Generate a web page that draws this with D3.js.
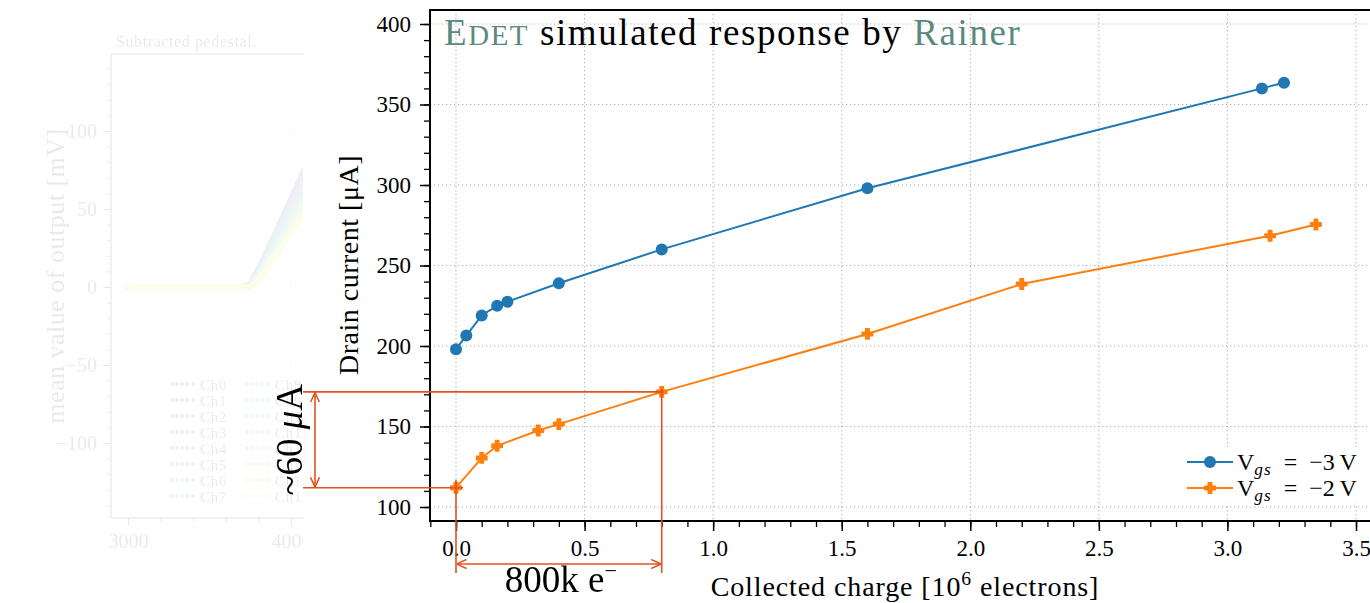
<!DOCTYPE html>
<html>
<head>
<meta charset="utf-8">
<script src="https://cdn.jsdelivr.net/npm/d3@7"></script>
<style>
  body { margin: 0; background: #fff; }
  svg { display: block; }
  text { font-family: "Liberation Serif", "DejaVu Serif", serif; }
</style>
</head>
<body>
<svg id="chart" width="1370" height="603"></svg>
<script>
// ---- main chart data ----
const chargeVgs3 = [0, 0.04, 0.1, 0.16, 0.2, 0.4, 0.8, 1.6, 3.134, 3.22]
const currentVgs3 = [198, 206.5, 219, 225, 227.5, 239, 260, 298, 360, 363.5]
const chargeVgs2 = [0, 0.1, 0.16, 0.32, 0.4, 0.8, 1.6, 2.2, 3.166, 3.344]
const currentVgs2 = [112, 130.5, 138, 147.5, 151.5, 171.5, 207.5, 238.5, 268.5, 275.5]
const seriesLabels = ["\u22123", "\u22122"]
const xTicks = [0, 0.5, 1, 1.5, 2, 2.5, 3, 3.5]
const yTicks = [100, 150, 200, 250, 300, 350, 400]

// ---- faded background chart data ----
const pedestalX = [3000, 3700, 3750, 3800, 3900, 4000, 4100]
const pedestalCh = [
  [0, 0, 2, 12, 34, 57, 80],
  [0, 0, 2, 12, 33, 56, 78],
  [0, 0, 2, 11, 32, 54, 76],
  [0, 0, 1, 10, 31, 52, 74],
  [0, 0, 1, 10, 30, 51, 72],
  [0, 0, 1, 9, 29, 49, 70],
  [0, 0, 1, 9, 28, 48, 68],
  [0, 0, 1, 8, 27, 46, 66],
  [0, 0, 1, 8, 26, 45, 64],
  [0, 0, 1, 7, 25, 43, 62],
  [0, 0, 1, 7, 24, 42, 60],
  [0, 0, 0, 6, 23, 40, 58],
  [0, 0, 0, 6, 22, 39, 56],
  [0, 0, 0, 5, 21, 37, 54],
  [0, 0, 0, 5, 20, 36, 52],
  [0, 0, 0, 4, 19, 34, 50]
]
const pedYTicks = [-100, -50, 0, 50, 100]
const pedXTicks = [3000, 4000]

const blue = "#1f77b4"
const orange = "#ff7f0e"
const annot = "#e0521f"
const teal = "#5b8a7c"

const svg = d3.select("#chart")
const defs = svg.append("defs")
defs.append("clipPath").attr("id", "leftClip")
  .append("rect").attr("x", 0).attr("y", 0).attr("width", 303).attr("height", 603)
defs.append("marker")
  .attr("id", "arrow")
  .attr("viewBox", "0 -5 10 10")
  .attr("refX", 9.5).attr("refY", 0)
  .attr("markerWidth", 10).attr("markerHeight", 10)
  .attr("markerUnits", "userSpaceOnUse")
  .attr("orient", "auto-start-reverse")
  .append("path")
  .attr("d", "M0,-4.5L10,0L0,4.5")
  .attr("fill", "none").attr("stroke", annot).attr("stroke-width", 1.5)

// ===== faded chart on the left =====
const bg = svg.append("g").attr("clip-path", "url(#leftClip)")
  .append("g").attr("opacity", 0.09)
const px = d3.scaleLinear().domain([3000, 4000]).range([128, 291])
const py = d3.scaleLinear().domain([0, 50]).range([287, 209])
const bgLeft = 111, bgTop = 54, bgBottom = 518

bg.append("text").attr("x", 116).attr("y", 47).attr("font-size", 16).attr("letter-spacing", 0.6).text("Subtracted pedestal.")
bg.selectAll("line.gy").data(pedYTicks).join("line")
  .attr("x1", bgLeft).attr("x2", 320).attr("y1", d => py(d)).attr("y2", d => py(d))
  .attr("stroke", "#888").attr("stroke-dasharray", "1,3")
bg.selectAll("line.gx").data(pedXTicks).join("line")
  .attr("x1", d => px(d)).attr("x2", d => px(d)).attr("y1", bgTop).attr("y2", bgBottom)
  .attr("stroke", "#888").attr("stroke-dasharray", "1,3")

const pedLine = d3.line().x((d, i) => px(pedestalX[i])).y(d => py(d))
bg.selectAll("path.ch").data(pedestalCh).join("path")
  .attr("d", pedLine)
  .attr("fill", "none")
  .attr("stroke", (d, i) => d3.interpolateViridis(0.1 + 0.85 * i / 15))
  .attr("stroke-width", 5)
  .attr("stroke-linecap", "round")

bg.append("rect").attr("x", bgLeft).attr("y", bgTop).attr("width", 300).attr("height", bgBottom - bgTop)
  .attr("fill", "none").attr("stroke", "#000").attr("stroke-width", 1.2)
bg.append("g").attr("transform", `translate(${bgLeft},0)`)
  .call(d3.axisLeft(py).tickValues(pedYTicks).tickSize(8).tickPadding(6))
  .call(g => g.select(".domain").remove())
  .call(g => g.selectAll("text").attr("font-size", 20).attr("font-family", "Liberation Serif"))
bg.append("g").attr("transform", `translate(${bgLeft},0)`)
  .call(d3.axisLeft(py).tickValues(d3.range(-140, 150, 10)).tickSize(4).tickFormat(""))
  .call(g => g.select(".domain").remove())
bg.append("g").attr("transform", `translate(0,${bgBottom})`)
  .call(d3.axisBottom(px).tickValues(pedXTicks).tickSize(8).tickPadding(8).tickFormat(d3.format("d")))
  .call(g => g.select(".domain").remove())
  .call(g => g.selectAll("text").attr("font-size", 20).attr("font-family", "Liberation Serif"))
bg.append("g").attr("transform", `translate(0,${bgBottom})`)
  .call(d3.axisBottom(px).tickValues(d3.range(3200, 4200, 200)).tickSize(4).tickFormat(""))
  .call(g => g.select(".domain").remove())
bg.append("text")
  .attr("transform", "translate(64,276) rotate(-90)")
  .attr("text-anchor", "middle").attr("font-size", 26).attr("letter-spacing", 0.5)
  .text("mean value of output [mV]")

const pedLegend = bg.append("g")
pedestalCh.forEach((d, i) => {
  const col = Math.floor(i / 8), row = i % 8
  const lx = 172 + col * 75, ly = 385 + row * 16
  const c = d3.interpolateViridis(0.1 + 0.85 * i / 15)
  pedLegend.selectAll(null).data([0, 5, 10, 15, 21]).join("circle")
    .attr("cx", o => lx + o).attr("cy", ly - 1).attr("r", 2).attr("fill", c)
  pedLegend.append("text").attr("x", lx + 28).attr("y", ly + 5).attr("font-size", 14.5)
    .attr("letter-spacing", 1).text("Ch" + i)
})

// ===== main chart =====
svg.append("rect").attr("x", 303).attr("y", 0).attr("width", 1067).attr("height", 603).attr("fill", "#fff")

const plotLeft = 430, plotTop = 10, plotBottom = 521, plotRight = 1380
const x = d3.scaleLinear().domain([0, 3.5]).range([456, 1356])
const y = d3.scaleLinear().domain([100, 400]).range([507, 24])

// grid
const grid = svg.append("g").attr("stroke", "#b0b0b0").attr("stroke-width", 1.1).attr("stroke-dasharray", "1.2,2.8")
grid.selectAll("line.gx").data(xTicks).join("line")
  .attr("x1", d => x(d)).attr("x2", d => x(d)).attr("y1", plotTop).attr("y2", plotBottom)
grid.selectAll("line.gy").data(yTicks).join("line")
  .attr("x1", plotLeft).attr("x2", plotRight).attr("y1", d => y(d)).attr("y2", d => y(d))

// axes
const tickFont = 23
svg.append("g").attr("transform", `translate(0,${plotBottom})`)
  .call(d3.axisBottom(x).tickValues(xTicks).tickSize(10).tickPadding(9).tickFormat(d3.format(".1f")))
  .call(g => g.select(".domain").remove())
  .call(g => g.selectAll("line").attr("stroke-width", 1.5))
  .call(g => g.selectAll("text").attr("font-size", tickFont).attr("font-family", "Liberation Serif").attr("fill", "#000"))
svg.append("g").attr("transform", `translate(0,${plotBottom})`)
  .call(d3.axisBottom(x).tickValues(d3.range(-1, 36).map(v => v / 10).filter(v => x(v) >= plotLeft)).tickSize(6).tickFormat(""))
  .call(g => g.select(".domain").remove())
  .call(g => g.selectAll("line").attr("stroke-width", 1.3))
svg.append("g").attr("transform", `translate(${plotLeft},0)`)
  .call(d3.axisLeft(y).tickValues(yTicks).tickSize(10).tickPadding(9))
  .call(g => g.select(".domain").remove())
  .call(g => g.selectAll("line").attr("stroke-width", 1.5))
  .call(g => g.selectAll("text").attr("font-size", tickFont).attr("font-family", "Liberation Serif").attr("fill", "#000"))
svg.append("g").attr("transform", `translate(${plotLeft},0)`)
  .call(d3.axisLeft(y).tickValues(d3.range(100, 410, 10)).tickSize(6).tickFormat(""))
  .call(g => g.select(".domain").remove())
  .call(g => g.selectAll("line").attr("stroke-width", 1.3))

// spines
const spines = svg.append("g").attr("stroke", "#000").attr("stroke-width", 2)
spines.append("line").attr("x1", plotLeft).attr("x2", plotLeft).attr("y1", plotTop - 1).attr("y2", plotBottom + 1)
spines.append("line").attr("x1", plotLeft).attr("x2", plotRight).attr("y1", plotTop).attr("y2", plotTop)
spines.append("line").attr("x1", plotLeft).attr("x2", plotRight).attr("y1", plotBottom).attr("y2", plotBottom)

// data lines and markers
const line = d3.line()
const ptsVgs3 = chargeVgs3.map((c, i) => [x(c), y(currentVgs3[i])])
const ptsVgs2 = chargeVgs2.map((c, i) => [x(c), y(currentVgs2[i])])
svg.append("path").attr("d", line(ptsVgs3)).attr("fill", "none").attr("stroke", blue).attr("stroke-width", 2)
svg.selectAll("circle.p3").data(ptsVgs3).join("circle")
  .attr("cx", d => d[0]).attr("cy", d => d[1]).attr("r", 6).attr("fill", blue)
svg.append("path").attr("d", line(ptsVgs2)).attr("fill", "none").attr("stroke", orange).attr("stroke-width", 2)
const plus = d3.symbol().type(d3.symbolCross).size(60)
svg.selectAll("path.p2").data(ptsVgs2).join("path")
  .attr("d", plus).attr("transform", d => `translate(${d[0]},${d[1]})`)
  .attr("fill", orange).attr("stroke", orange).attr("stroke-width", 1.5).attr("stroke-linejoin", "round")

// legend
const lg = svg.append("g")
lg.append("rect").attr("x", 1180).attr("y", 447).attr("width", 188).attr("height", 56).attr("fill", "#fff")
const legendRows = [
  { color: blue, label: seriesLabels[0], kind: "circle" },
  { color: orange, label: seriesLabels[1], kind: "plus" }
]
legendRows.forEach((r, i) => {
  const ly = 462 + i * 26
  lg.append("line").attr("x1", 1187).attr("x2", 1233).attr("y1", ly).attr("y2", ly)
    .attr("stroke", r.color).attr("stroke-width", 2)
  if (r.kind === "circle") {
    lg.append("circle").attr("cx", 1210).attr("cy", ly).attr("r", 6).attr("fill", r.color)
  } else {
    lg.append("path").attr("d", plus).attr("transform", `translate(1210,${ly})`)
      .attr("fill", r.color).attr("stroke", r.color).attr("stroke-width", 1.5)
  }
  const t = lg.append("text").attr("x", 1237).attr("y", ly + 8).attr("font-size", 24)
  t.append("tspan").text("V")
  t.append("tspan").attr("font-size", "0.72em").attr("font-style", "italic").attr("dy", "0.3em").attr("letter-spacing", 1).text("gs")
  t.append("tspan").attr("dy", "-0.22em").text("\u2002=\u2002" + r.label + "\u2009V")
})

// title
const title = svg.append("text").attr("x", 444).attr("y", 45).attr("font-size", 37).attr("letter-spacing", 1.6)
title.append("tspan").attr("fill", teal).text("E")
title.append("tspan").attr("fill", teal).attr("font-size", "0.78em").text("DET")
title.append("tspan").attr("fill", "#000").text(" simulated response by ")
title.append("tspan").attr("fill", teal).text("Rainer")

// axis labels
const xLabel = svg.append("text").attr("x", 905).attr("y", 596).attr("text-anchor", "middle")
  .attr("font-size", 28).attr("letter-spacing", 0.9)
xLabel.append("tspan").text("Collected charge [10")
xLabel.append("tspan").attr("font-size", "0.7em").attr("dy", "-0.55em").text("6")
xLabel.append("tspan").attr("dy", "0.38em").text(" electrons]")
const yLabel = svg.append("text").attr("transform", "translate(358,265) rotate(-90)")
  .attr("text-anchor", "middle").attr("font-size", 28).attr("letter-spacing", 0.5).text("Drain current [\u03bcA]")

// annotations derived from the data points they mark
const ax0 = x(chargeVgs2[0]), ax1 = x(chargeVgs2[5])
const ay0 = y(currentVgs2[0]), ay1 = y(currentVgs2[5])
const an = svg.append("g").attr("stroke", annot).attr("stroke-width", 1.6).attr("fill", "none")
an.append("line").attr("x1", 303).attr("x2", ax1 + 2).attr("y1", ay1).attr("y2", ay1)
an.append("line").attr("x1", 303).attr("x2", ax0 + 7).attr("y1", ay0).attr("y2", ay0)
an.append("line").attr("x1", ax0).attr("x2", ax0).attr("y1", ay0 - 8).attr("y2", 573)
an.append("line").attr("x1", ax1).attr("x2", ax1).attr("y1", ay1 - 3).attr("y2", 573)
an.append("line").attr("x1", 315).attr("x2", 315).attr("y1", ay1 + 1).attr("y2", ay0 - 1)
  .attr("marker-start", "url(#arrow)").attr("marker-end", "url(#arrow)")
an.append("line").attr("x1", ax0 + 1).attr("x2", ax1 - 1).attr("y1", 564).attr("y2", 564)
  .attr("marker-start", "url(#arrow)").attr("marker-end", "url(#arrow)")

const t60 = svg.append("text").attr("transform", `translate(302,${(ay0 + ay1) / 2}) rotate(-90)`)
  .attr("text-anchor", "middle").attr("font-size", 37)
t60.append("tspan").text("~60 ")
t60.append("tspan").attr("font-style", "italic").text("\u03bc")
t60.append("tspan").text("A")
const t800 = svg.append("text").attr("x", (ax0 + ax1) / 2 + 2).attr("y", 592)
  .attr("text-anchor", "middle").attr("font-size", 37)
t800.append("tspan").text("800k e")
t800.append("tspan").attr("font-size", "0.6em").attr("dy", "-0.62em").text("\u2212")
</script>
</body>
</html>
